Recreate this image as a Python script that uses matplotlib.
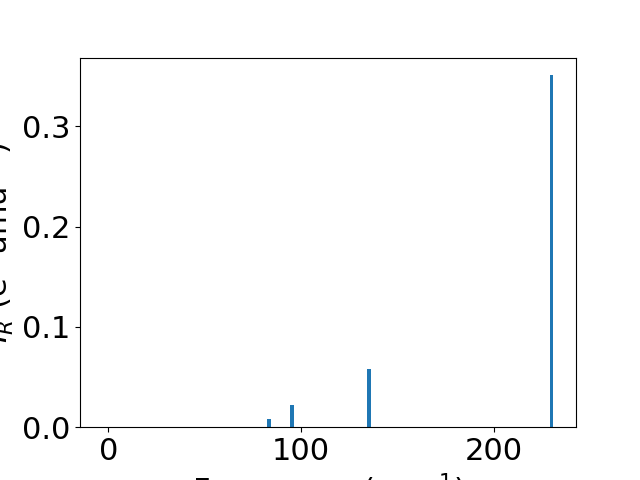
import numpy as np
import matplotlib
matplotlib.use('Agg')
import matplotlib.pyplot as plt

# mode frequencies (cm^-1) and IR intensities
freqs = [-2.0, 83.3, 95.3, 135.3, 230.0]
intensities = [0.0, 0.0083, 0.0222, 0.058, 0.351]

plt.rcParams['font.size'] = 22

fig, ax = plt.subplots(figsize=(6.4, 4.8), dpi=100)
ax.bar(freqs, intensities, width=2.0, color='tab:blue')
ax.set_xlabel('Frequency (cm$^{-1}$)')
ax.set_ylabel('$I_R$ (e$^2$ amu$^{-1}$)')
ax.set_xticks([0, 100, 200])

fig.savefig('out.png')
